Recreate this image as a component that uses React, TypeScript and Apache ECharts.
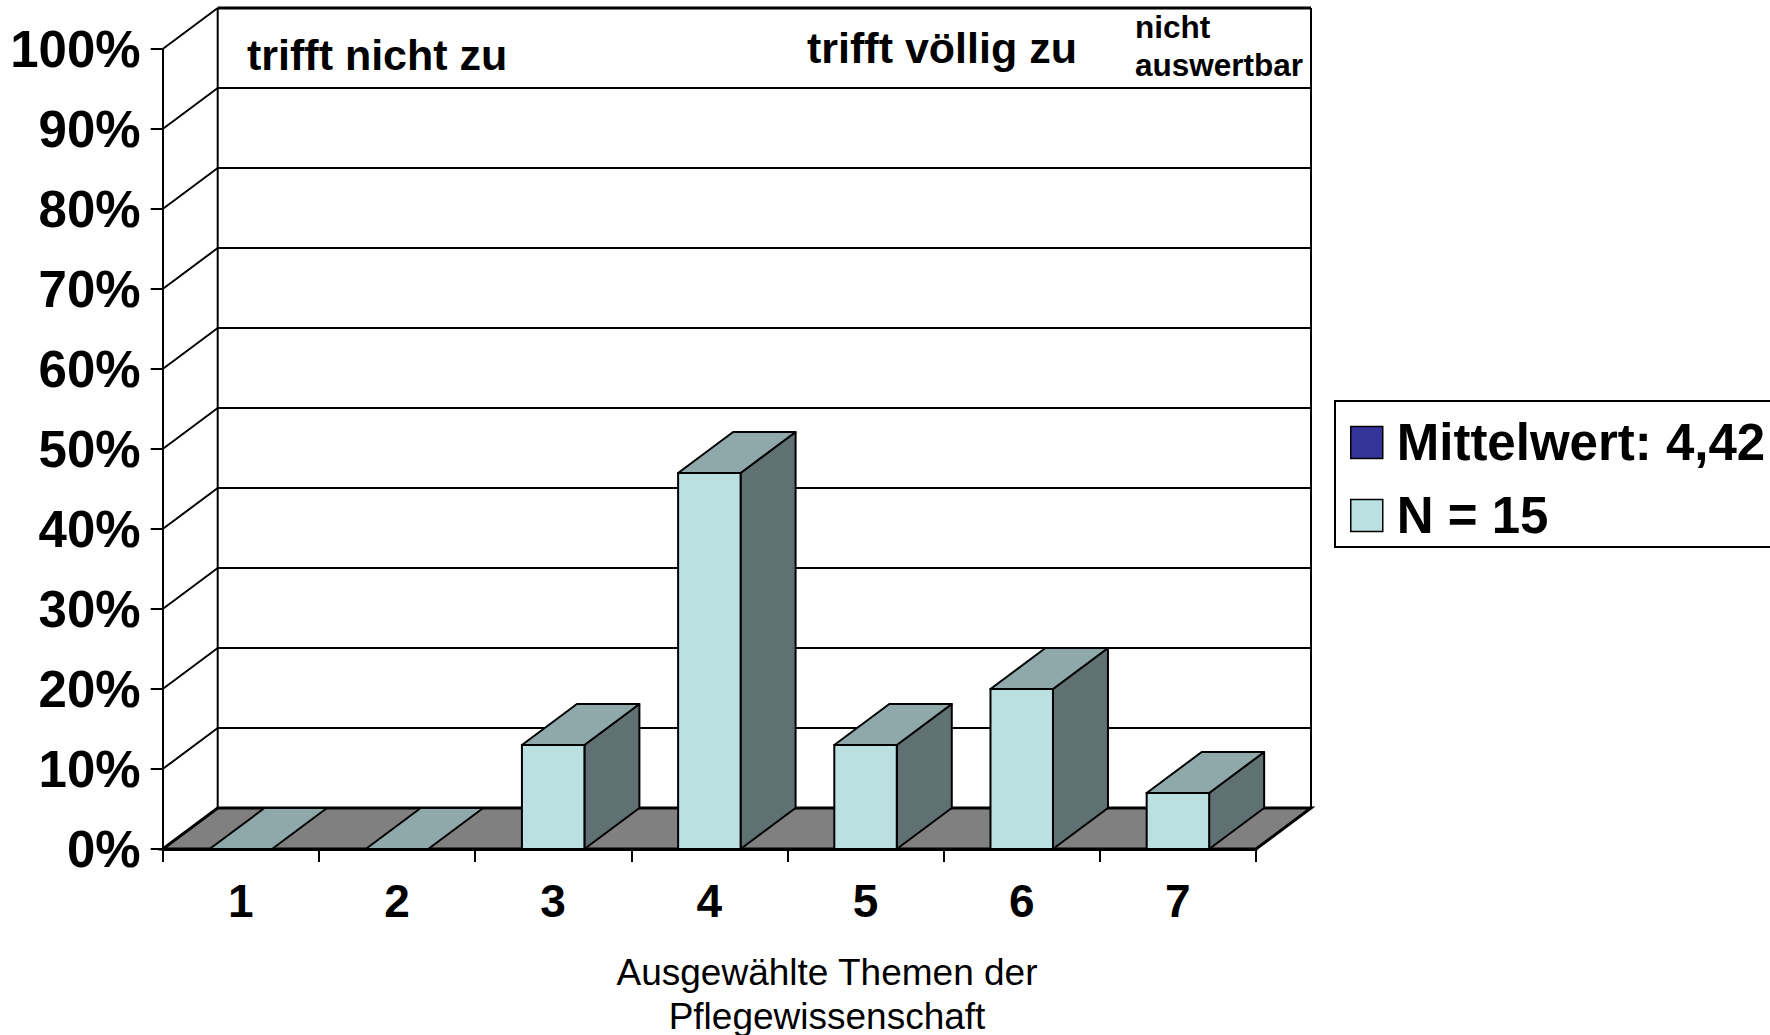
import React, { useEffect, useRef } from 'react';
import * as echarts from 'echarts';

const categories = ['1', '2', '3', '4', '5', '6', '7'];
const percentValues = [0, 0, 13, 47, 13, 20, 7];
const yTicks = [0, 10, 20, 30, 40, 50, 60, 70, 80, 90, 100];
const legendMean = 'Mittelwert: 4,42';
const legendN = 'N = 15';
const labelLow = 'trifft nicht zu';
const labelHigh = 'trifft völlig zu';
const labelNA = 'nicht\nauswertbar';
const axisTitle = 'Ausgewählte Themen der\nPflegewissenschaft';

const DX = 55;
const DY = 41;
const BAR_RATIO = 0.4;
const FONT = '"Liberation Sans", Arial, Helvetica, sans-serif';

export default function App() {
  const ref = useRef<HTMLDivElement>(null);
  useEffect(() => {
    const chart = echarts.init(ref.current as HTMLDivElement, null, { renderer: 'svg' });
    const stroke = '#000';
    const option: any = {
      animation: false,
      backgroundColor: '#ffffff',
      grid: { left: 162.7, top: 49, width: 1093.3, height: 800 },
      xAxis: {
        type: 'category',
        data: categories,
        boundaryGap: true,
        axisLine: { show: true, lineStyle: { color: stroke, width: 3 } },
        axisTick: { show: true, length: 13, lineStyle: { color: stroke, width: 2 } },
        axisLabel: { fontFamily: FONT, fontSize: 46, fontWeight: 'bold', color: '#000', margin: 29 },
        splitLine: { show: false },
      },
      yAxis: {
        type: 'value',
        min: 0,
        max: 100,
        interval: 10,
        axisLine: { show: true, lineStyle: { color: stroke, width: 2 } },
        axisTick: { show: true, length: 12, lineStyle: { color: stroke, width: 2 } },
        axisLabel: { formatter: '{value}%', fontFamily: FONT, fontSize: 51, fontWeight: 'bold', color: '#000', margin: 22 },
        splitLine: { show: false },
      },
      legend: {
        orient: 'vertical',
        left: 1335,
        top: 401,
        icon: 'rect',
        itemWidth: 32,
        itemHeight: 32,
        itemGap: 22,
        padding: [16, 40, 6, 15],
        borderColor: '#000',
        borderWidth: 2,
        backgroundColor: '#fff',
        selectedMode: false,
        data: [legendMean, legendN],
        textStyle: { fontFamily: FONT, fontSize: 51, fontWeight: 'bold', color: '#000', lineHeight: 50, padding: [0, 0, 0, 9] },
        itemStyle: { borderColor: '#000', borderWidth: 1.5 },
      },
      graphic: [
        { type: 'text', x: 247, y: 55, style: { text: labelLow, font: `bold 43px ${FONT}`, fill: '#000', verticalAlign: 'middle' } },
        { type: 'text', x: 807, y: 48, style: { text: labelHigh, font: `bold 43px ${FONT}`, fill: '#000', verticalAlign: 'middle' } },
        { type: 'text', x: 1135, y: 46, style: { text: labelNA, font: `bold 31.5px ${FONT}`, fill: '#000', verticalAlign: 'middle', lineHeight: 38 } },
        { type: 'text', x: 827, y: 950, style: { text: axisTitle, font: `37px ${FONT}`, fill: '#000', align: 'center', verticalAlign: 'top', lineHeight: 44 } },
      ],
      series: [
        {
          type: 'custom',
          name: 'wall',
          z: 1,
          silent: true,
          data: [[0, 0]],
          renderItem: (params: any, api: any) => {
            const c0 = api.coord([0, 0]);
            const bw = api.size([1, 0])[0];
            const left = c0[0] - bw / 2;
            const right = api.coord([categories.length - 1, 0])[0] + bw / 2;
            const yBottom = c0[1];
            const yTop = api.coord([0, 100])[1];
            const children: any[] = [];
            yTicks.forEach((t) => {
              const y = api.coord([0, t])[1];
              const lw = t === 100 ? 3 : 2;
              if (t > 0) {
                children.push({ type: 'line', shape: { x1: left, y1: y, x2: left + DX, y2: y - DY }, style: { stroke, lineWidth: 2 } });
                children.push({ type: 'line', shape: { x1: left + DX, y1: y - DY, x2: right + DX, y2: y - DY }, style: { stroke, lineWidth: lw } });
              }
            });
            children.push({ type: 'line', shape: { x1: left + DX, y1: yBottom - DY, x2: left + DX, y2: yTop - DY }, style: { stroke, lineWidth: 2 } });
            children.push({ type: 'line', shape: { x1: right + DX, y1: yBottom - DY, x2: right + DX, y2: yTop - DY }, style: { stroke, lineWidth: 2 } });
            children.push({
              type: 'polygon',
              shape: { points: [[left, yBottom], [right, yBottom], [right + DX, yBottom - DY], [left + DX, yBottom - DY]] },
              style: { fill: '#808080', stroke, lineWidth: 3 },
            });
            return { type: 'group', children };
          },
        },
        {
          type: 'custom',
          name: legendMean,
          data: [],
          itemStyle: { color: '#333399' },
          renderItem: () => null,
        },
        {
          type: 'custom',
          name: legendN,
          z: 2,
          itemStyle: { color: '#bae0e2' },
          data: percentValues.map((v, i) => [i, v]),
          renderItem: (params: any, api: any) => {
            const i = api.value(0);
            const v = api.value(1);
            const base = api.coord([i, 0]);
            const top = api.coord([i, v]);
            const w = api.size([1, 0])[0] * BAR_RATIO;
            const x0 = base[0] - w / 2;
            const x1 = base[0] + w / 2;
            const y0 = base[1];
            const y1 = top[1];
            const children: any[] = [];
            if (v > 0) {
              children.push({
                type: 'polygon',
                shape: { points: [[x1, y1], [x1 + DX, y1 - DY], [x1 + DX, y0 - DY], [x1, y0]] },
                style: { fill: '#5f7172', stroke, lineWidth: 2, lineJoin: 'round' },
              });
            }
            children.push({
              type: 'polygon',
              shape: { points: [[x0, y1], [x1, y1], [x1 + DX, y1 - DY], [x0 + DX, y1 - DY]] },
              style: { fill: '#8fa9ab', stroke, lineWidth: 2, lineJoin: 'round' },
            });
            if (v > 0) {
              children.push({
                type: 'rect',
                shape: { x: x0, y: y1, width: w, height: y0 - y1 },
                style: { fill: '#bae0e2', stroke, lineWidth: 2 },
              });
            }
            return { type: 'group', children };
          },
        },
      ],
    };
    chart.setOption(option);
    return () => chart.dispose();
  }, []);
  return <div ref={ref} style={{ position: 'absolute', left: 0, top: 0, width: 1770, height: 1035 }} />;
}
